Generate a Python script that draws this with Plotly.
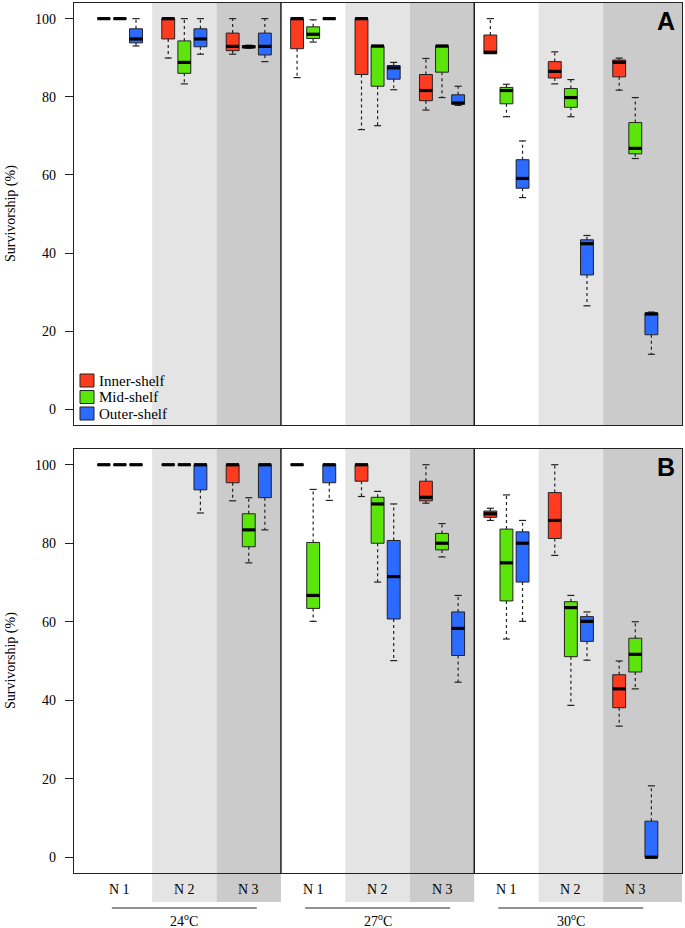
import plotly.graph_objects as go

W, H = 685, 928

temps = ["24<sup>o</sup>C", "27<sup>o</sup>C", "30<sup>o</sup>C"]
n_levels = ["N 1", "N 2", "N 3"]
shelves = ["Inner-shelf", "Mid-shelf", "Outer-shelf"]
colors = ["#ff3b1f", "#5ce50a", "#2b6bff"]

# (lower whisker, q1, median, q3, upper whisker), groups 24N1 .. 30N3
a_inner = [(100, 100, 100, 100, 100), (89.9, 94.8, 100, 100, 100), (90.9, 91.8, 92.9, 96.3, 100),
           (84.9, 92.3, 100, 100, 100), (71.6, 85.7, 100, 100, 100), (76.6, 79.0, 81.6, 85.7, 89.8),
           (91.0, 91.0, 91.4, 95.8, 100), (83.3, 84.8, 86.5, 89.0, 91.5), (81.7, 85.1, 88.8, 89.4, 89.9)]
a_mid = [(100, 100, 100, 100, 100), (83.3, 86.0, 88.8, 94.3, 100), (92.4, 92.5, 92.8, 93.1, 93.2),
         (94.0, 94.9, 96.0, 97.9, 99.7), (72.6, 82.7, 93.0, 93.0, 93.0), (79.8, 86.3, 93.0, 93.0, 93.0),
         (74.9, 78.2, 81.6, 82.4, 83.2), (74.9, 77.3, 79.8, 82.1, 84.4), (64.2, 65.4, 66.8, 73.4, 79.8)]
a_outer = [(93.0, 93.8, 94.8, 97.4, 100), (90.9, 92.8, 94.8, 97.4, 100), (89.0, 90.7, 92.9, 96.3, 100),
           (100, 100, 100, 100, 100), (81.8, 84.5, 87.4, 88.0, 88.8), (77.8, 78.1, 78.4, 80.5, 82.7),
           (54.2, 56.6, 59.1, 63.9, 68.7), (26.5, 34.4, 42.4, 43.4, 44.5), (14.1, 19.1, 24.4, 24.7, 24.9)]

b_inner = [(100, 100, 100, 100, 100), (100, 100, 100, 100, 100), (90.8, 95.4, 100, 100, 100),
           (100, 100, 100, 100, 100), (91.9, 95.8, 100, 100, 100), (90.2, 90.8, 91.7, 95.8, 100),
           (85.8, 86.6, 87.5, 88.2, 88.9), (76.9, 81.2, 85.8, 92.9, 100), (33.4, 38.1, 42.9, 46.5, 50.0)]
b_mid = [(100, 100, 100, 100, 100), (100, 100, 100, 100, 100), (75.0, 79.1, 83.4, 87.5, 91.6),
         (60.1, 63.4, 66.7, 80.2, 93.7), (70.1, 80.0, 90.0, 91.7, 93.2), (76.5, 78.3, 80.0, 82.5, 85.0),
         (55.6, 65.3, 75.0, 83.6, 92.3), (38.7, 51.1, 63.6, 65.1, 66.7), (42.9, 47.2, 51.7, 55.8, 60.0)]
b_outer = [(100, 100, 100, 100, 100), (87.7, 93.6, 100, 100, 100), (83.4, 91.6, 100, 100, 100),
           (90.9, 95.4, 100, 100, 100), (50.1, 60.7, 71.5, 80.7, 90.0), (44.6, 51.4, 58.3, 62.5, 66.7),
           (60.1, 70.1, 80.0, 82.9, 85.8), (50.2, 55.0, 60.1, 61.3, 62.5), (0, 0, 0, 9.2, 18.2)]

panels = [("A", [a_inner, a_mid, a_outer]), ("B", [b_inner, b_mid, b_outer])]

XR = [-0.85, 36.9]
XDOM = [74 / W, 682 / W]
YDOMS = [[1 - 425 / H, 1 - 3 / H], [1 - 873 / H, 1 - 449 / H]]
FONT = "Liberation Serif, Times New Roman, serif"


def px(v):
    return 1 - v / H


def xpaper(p):
    return XDOM[0] + (p - XR[0]) / (XR[1] - XR[0]) * (XDOM[1] - XDOM[0])


def label(text, x, y, size=14, xanchor="center", **kw):
    return dict(text=text, xref="paper", yref="paper", x=x, y=y, showarrow=False,
                xanchor=xanchor, yanchor="middle",
                font=dict(family=kw.pop("family", FONT), size=size, color="black"), **kw)


fig = go.Figure()
shapes = []
annotations = []

for pi, (letter, series) in enumerate(panels):
    xa = "x" if pi == 0 else "x2"
    ya = "y" if pi == 0 else "y2"
    dom = YDOMS[pi]

    # background bands for N levels
    for k in range(9):
        lvl = k % 3
        if lvl == 0:
            continue
        x0 = 4 * k
        x1 = XR[1] if k == 8 else 4 * k + 4
        y0 = dom[0] if pi == 0 else px(902)
        shapes.append(dict(type="rect", xref="paper", yref="paper",
                           x0=xpaper(x0), x1=xpaper(x1), y0=y0, y1=dom[1],
                           fillcolor="#e4e4e4" if lvl == 1 else "#cbcbcb",
                           line=dict(width=0), layer="below"))
    # temperature separators
    for t in (1, 2):
        shapes.append(dict(type="line", xref="paper", yref="paper",
                           x0=xpaper(12 * t), x1=xpaper(12 * t), y0=dom[0], y1=dom[1],
                           line=dict(color="black", width=1.3), layer="above"))

    for j, stats in enumerate(series):
        pos = [4 * k + 1 + j for k in range(9)]
        wx, wy, cx, cy, mx, my = [], [], [], [], [], []
        for p, (lo, q1, med, q3, hi) in zip(pos, stats):
            if hi > q3:
                wx += [p, p, None]
                wy += [q3, hi, None]
                cx += [p - 0.22, p + 0.22, None]
                cy += [hi, hi, None]
            if lo < q1:
                wx += [p, p, None]
                wy += [q1, lo, None]
                cx += [p - 0.22, p + 0.22, None]
                cy += [lo, lo, None]
            mx += [p - 0.4, p + 0.4, None]
            my += [med, med, None]
        fig.add_trace(go.Scatter(x=wx, y=wy, mode="lines", xaxis=xa, yaxis=ya,
                                 line=dict(color="#222", width=1.2, dash="3px,3px"),
                                 showlegend=False, hoverinfo="skip"))
        fig.add_trace(go.Scatter(x=cx, y=cy, mode="lines", xaxis=xa, yaxis=ya,
                                 line=dict(color="#222", width=1.2),
                                 showlegend=False, hoverinfo="skip"))
        fig.add_trace(go.Box(x=pos, q1=[s[1] for s in stats], median=[s[2] for s in stats],
                             q3=[s[3] for s in stats], lowerfence=[s[1] for s in stats],
                             upperfence=[s[3] for s in stats], width=0.8,
                             fillcolor=colors[j], line=dict(color="#222", width=1),
                             boxpoints=False, whiskerwidth=0, xaxis=xa, yaxis=ya,
                             showlegend=False, hoverinfo="skip"))
        fig.add_trace(go.Scatter(x=mx, y=my, mode="lines", xaxis=xa, yaxis=ya,
                                 line=dict(color="black", width=3.2),
                                 showlegend=False, hoverinfo="skip"))

    annotations.append(label("<b>" + letter + "</b>", 666 / W, dom[1] - 18 / H, size=25,
                             family="Liberation Sans, Arial, sans-serif"))
    annotations.append(label("Survivorship (%)", 11 / W, (dom[0] + dom[1]) / 2, textangle=-90))

# x labels under panel B
for k in range(9):
    annotations.append(label(n_levels[k % 3], xpaper(4 * k + 2), px(889)))
for t in range(3):
    c = 12 * t + 6
    shapes.append(dict(type="line", xref="paper", yref="paper",
                       x0=xpaper(c - 4.5), x1=xpaper(c + 4.5), y0=px(908), y1=px(908),
                       line=dict(color="#222", width=1.2)))
    annotations.append(label(temps[t], xpaper(c), px(920)))

# legend in panel A
for j, name in enumerate(shelves):
    top = 374 + j * 16.5
    shapes.append(dict(type="rect", xref="paper", yref="paper",
                       x0=80 / W, x1=94 / W, y0=px(top + 13), y1=px(top),
                       fillcolor=colors[j], line=dict(color="#222", width=1)))
    annotations.append(label(name, 97 / W, px(top + 6.5), size=15, xanchor="left"))

axis_common = dict(showgrid=False, zeroline=False, showline=True, mirror=True,
                   linecolor="#222", linewidth=1.3)
yaxis_common = dict(axis_common, range=[-4, 104], tickvals=[0, 20, 40, 60, 80, 100],
                    ticks="outside", ticklen=8, tickcolor="#222", tickwidth=1,
                    ticklabelstandoff=6,
                    tickfont=dict(family=FONT, size=14, color="black"))
xaxis_common = dict(axis_common, range=XR, domain=XDOM, showticklabels=False, ticks="")

fig.update_layout(
    width=W, height=H, margin=dict(l=0, r=0, t=0, b=0),
    paper_bgcolor="white", plot_bgcolor="rgba(0,0,0,0)",
    boxmode="overlay",
    xaxis=dict(xaxis_common, anchor="y"),
    yaxis=dict(yaxis_common, domain=YDOMS[0], anchor="x"),
    xaxis2=dict(xaxis_common, anchor="y2"),
    yaxis2=dict(yaxis_common, domain=YDOMS[1], anchor="x2"),
    shapes=shapes, annotations=annotations,
)

fig.write_html("out.html", config={"displayModeBar": False},
               post_script="document.body.style.margin='0';")
